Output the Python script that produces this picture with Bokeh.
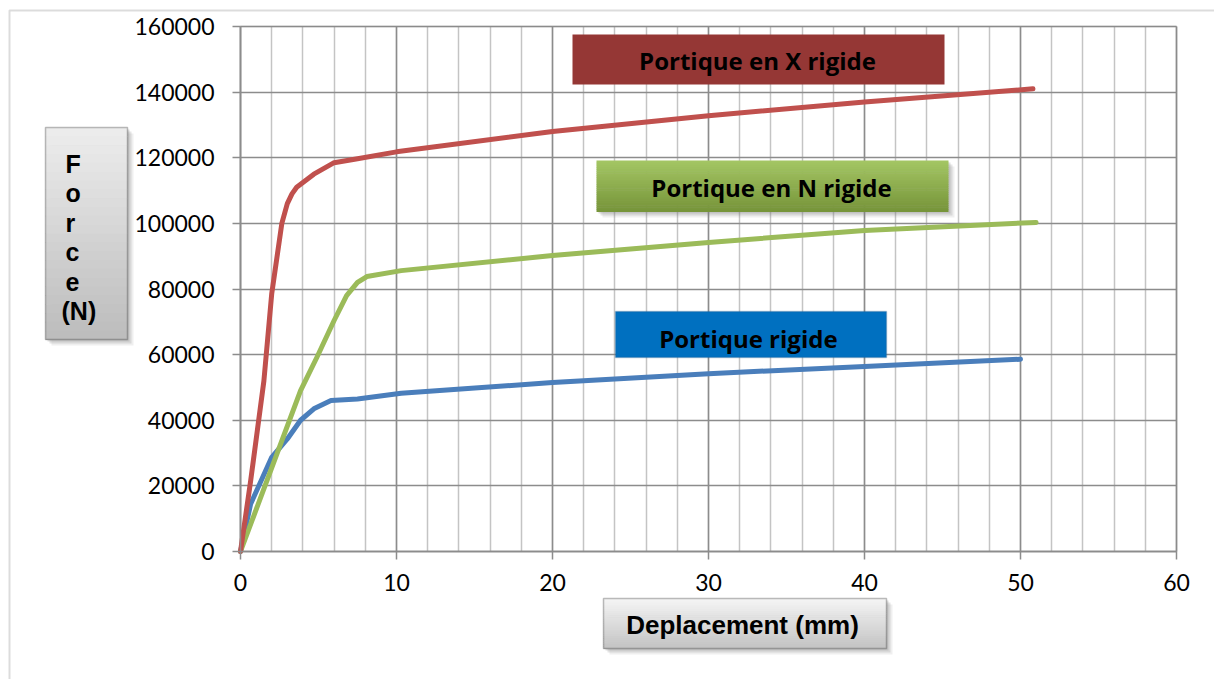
from bokeh.plotting import figure
from bokeh.models import Range1d, BoxAnnotation, Label, FixedTicker, Grid
from bokeh.embed import file_html
from bokeh.resources import INLINE

# ---- data: displacement (mm) vs force (N) -------------------------------
x_ticks = [0, 10, 20, 30, 40, 50, 60]
x_minor = [0, 2, 4, 6, 8, 10, 12, 14, 16, 18, 20, 22, 24, 26, 28, 30,
           32, 34, 36, 38, 40, 42, 44, 46, 48, 50, 52, 54, 56, 58, 60]
y_ticks = [0, 20000, 40000, 60000, 80000, 100000, 120000, 140000, 160000]

disp_x = [0, 0.65, 1.5, 2.0, 2.65, 3.0, 3.3, 3.6, 4.7, 6.0, 7.5, 10, 20, 30, 40, 50.8]
force_x = [0, 21500, 52000, 78500, 100000, 106000, 109000, 111000, 115000, 118500,
           119700, 121800, 128000, 132800, 137000, 141000]

disp_n = [0, 2.0, 3.85, 4.9, 6.0, 6.8, 7.5, 8.1, 10.3, 20, 30, 40, 51.0]
force_n = [0, 25500, 49000, 59200, 70400, 78000, 82000, 83800, 85600,
           90200, 94200, 97800, 100300]

disp_r = [0, 0.65, 2.0, 3.0, 3.85, 4.7, 5.8, 7.5, 10.3, 20, 30, 40, 50.0]
force_r = [0, 14500, 28700, 34300, 40000, 43500, 46000, 46500, 48200,
           51500, 54200, 56400, 58600]

series_names = ["Portique en X rigide", "Portique en N rigide", "Portique  rigide"]
x_title = "Deplacement (mm)"
y_title = ["F", "o", "r", "c", "e", "(N)"]

# ---- geometry: the frame fills the canvas, axes sit at fixed locations ----
W, H = 1214, 679
LEFT, RIGHT, TOP, BOTTOM = 240, 1176, 26, 551
X0, X1, Y0, Y1 = 0, 60, 0, 160000
sx = (X1 - X0) / (RIGHT - LEFT)
sy = (Y1 - Y0) / (BOTTOM - TOP)

p = figure(width=W, height=H, output_backend="svg", toolbar_location=None,
           x_range=Range1d(X0 - LEFT * sx, X1 + (W - RIGHT) * sx),
           y_range=Range1d(Y0 - (H - BOTTOM) * sy, Y1 + TOP * sy),
           min_border=0, min_border_left=0, min_border_right=0,
           min_border_top=0, min_border_bottom=0)
p.background_fill_color = "white"
p.border_fill_color = "white"
p.outline_line_color = None


def dx(px):
    return X0 + (px - LEFT) * sx


def dy(py):
    return Y0 + (BOTTOM - py) * sy


GRID_DARK = "#8c8c8c"
GRID_LIGHT = "#c4c4c4"

# axes
p.xaxis.fixed_location = Y0
p.yaxis.fixed_location = X0
p.xaxis.bounds = (X0, X1)
p.yaxis.bounds = (Y0, Y1)
for ax in (p.xaxis[0], p.yaxis[0]):
    ax.axis_line_color = GRID_DARK
    ax.axis_line_width = 1.5
    ax.major_tick_line_color = GRID_DARK
    ax.major_tick_line_width = 1.5
    ax.major_tick_out = 8
    ax.major_tick_in = 0
    ax.minor_tick_out = 0
    ax.minor_tick_in = 0
    ax.major_label_text_font = "Lato"
    ax.major_label_text_font_size = "23px"
    ax.major_label_text_color = "black"
p.xaxis.major_label_standoff = 14
p.yaxis.major_label_standoff = 18

p.xaxis.ticker = FixedTicker(ticks=x_ticks, minor_ticks=x_minor)
p.yaxis.ticker = FixedTicker(ticks=y_ticks)
p.yaxis.formatter.use_scientific = False

# grid, limited to the plotting area
p.xgrid.grid_line_color = None
p.ygrid.grid_line_color = None
if "cross_bounds" in Grid.properties():
    gx = Grid(dimension=0, ticker=FixedTicker(ticks=x_ticks, minor_ticks=x_minor),
              bounds=(X0, X1), cross_bounds=(Y0, Y1),
              grid_line_color=GRID_DARK, grid_line_width=1.5,
              minor_grid_line_color=GRID_LIGHT, minor_grid_line_width=1.5)
    gy = Grid(dimension=1, ticker=FixedTicker(ticks=y_ticks),
              bounds=(Y0, Y1), cross_bounds=(X0, X1),
              grid_line_color=GRID_DARK, grid_line_width=1.5)
    p.add_layout(gx)
    p.add_layout(gy)
else:
    minor_only = [v for v in x_minor if v not in x_ticks]
    p.segment(x0=minor_only, y0=[Y0] * len(minor_only), x1=minor_only,
              y1=[Y1] * len(minor_only), line_color=GRID_LIGHT, line_width=1.5)
    p.segment(x0=x_ticks, y0=[Y0] * len(x_ticks), x1=x_ticks,
              y1=[Y1] * len(x_ticks), line_color=GRID_DARK, line_width=1.5)
    p.segment(x0=[X0] * len(y_ticks), y0=y_ticks, x1=[X1] * len(y_ticks),
              y1=y_ticks, line_color=GRID_DARK, line_width=1.5)

# plot-area border
p.add_layout(BoxAnnotation(left=X0, right=X1, bottom=Y0, top=Y1, fill_alpha=0,
                           line_color=GRID_DARK, line_width=1.5, level="underlay"))

# curves
p.line(disp_r, force_r, line_color="#4a7ebb", line_width=5, line_join="round", line_cap="round")
p.line(disp_n, force_n, line_color="#9bbb59", line_width=5, line_join="round", line_cap="round")
p.line(disp_x, force_x, line_color="#c0504d", line_width=5, line_join="round", line_cap="round")


def hexmix(c1, c2, t):
    a = [int(c1[i:i + 2], 16) for i in (1, 3, 5)]
    b = [int(c2[i:i + 2], 16) for i in (1, 3, 5)]
    return "#%02x%02x%02x" % tuple(round(a[k] + (b[k] - a[k]) * t) for k in range(3))


def box(l, t, r, b, top_color, bottom_color=None, line_color=None, shadow=False):
    if shadow:
        for off, alpha in ((6, 0.12), (4, 0.2), (2, 0.25)):
            p.add_layout(BoxAnnotation(left=dx(l + off), right=dx(r + off),
                                       top=dy(t + off), bottom=dy(b + off),
                                       fill_color="#7f7f7f", fill_alpha=alpha,
                                       line_color=None, level="overlay"))
    if bottom_color is None:
        p.add_layout(BoxAnnotation(left=dx(l), right=dx(r), top=dy(t), bottom=dy(b),
                                   fill_color=top_color, fill_alpha=1,
                                   line_color=line_color, line_width=1.5,
                                   level="overlay"))
        return
    n = 24
    h = (b - t) / n
    for i in range(n):
        p.add_layout(BoxAnnotation(left=dx(l), right=dx(r),
                                   top=dy(t + i * h), bottom=dy(t + (i + 1) * h + 0.6),
                                   fill_color=hexmix(top_color, bottom_color, i / (n - 1)),
                                   fill_alpha=1, line_color=None, level="overlay"))
    if line_color is not None:
        p.add_layout(BoxAnnotation(left=dx(l), right=dx(r), top=dy(t), bottom=dy(b),
                                   fill_alpha=0, line_color=line_color, line_width=1.5,
                                   level="overlay"))


def text(px, py, s, font="Open Sans", size="24px", align="center", baseline="middle"):
    p.add_layout(Label(x=dx(px), y=dy(py), text=s, text_font=font,
                       text_font_style="bold", text_font_size=size,
                       text_color="black", text_align=align,
                       text_baseline=baseline, level="overlay"))


# outer chart border
p.add_layout(BoxAnnotation(left=dx(9), right=dx(W + 20), top=dy(10), bottom=dy(H + 20),
                           fill_alpha=0, line_color=GRID_DARK, line_width=2,
                           level="overlay"))

# series labels
box(572, 34, 944, 84, "#953735")
text(757, 60, series_names[0])
box(596, 160, 948, 211, "#a3c563", "#77953a", shadow=True)
text(771, 187, series_names[1])
box(615, 311, 886, 357, "#0070c0", line_color="#2c5f8e")
text(751, 338, series_names[2])

# axis titles
box(603, 598, 886, 648, "#f4f4f4", "#c4c4c4", line_color="#262626", shadow=True)
text(742, 624, x_title, font="Liberation Sans", size="26px")
box(45, 127, 127, 339, "#ececec", "#bdbdbd", line_color="#262626", shadow=True)
for i, s in enumerate(y_title):
    text(61 if s.startswith("(") else 65, 163 + 29.5 * i, s,
         font="Liberation Sans", size="25px", align="left", baseline="alphabetic")

open("out.html", "w").write(file_html(p, INLINE))
